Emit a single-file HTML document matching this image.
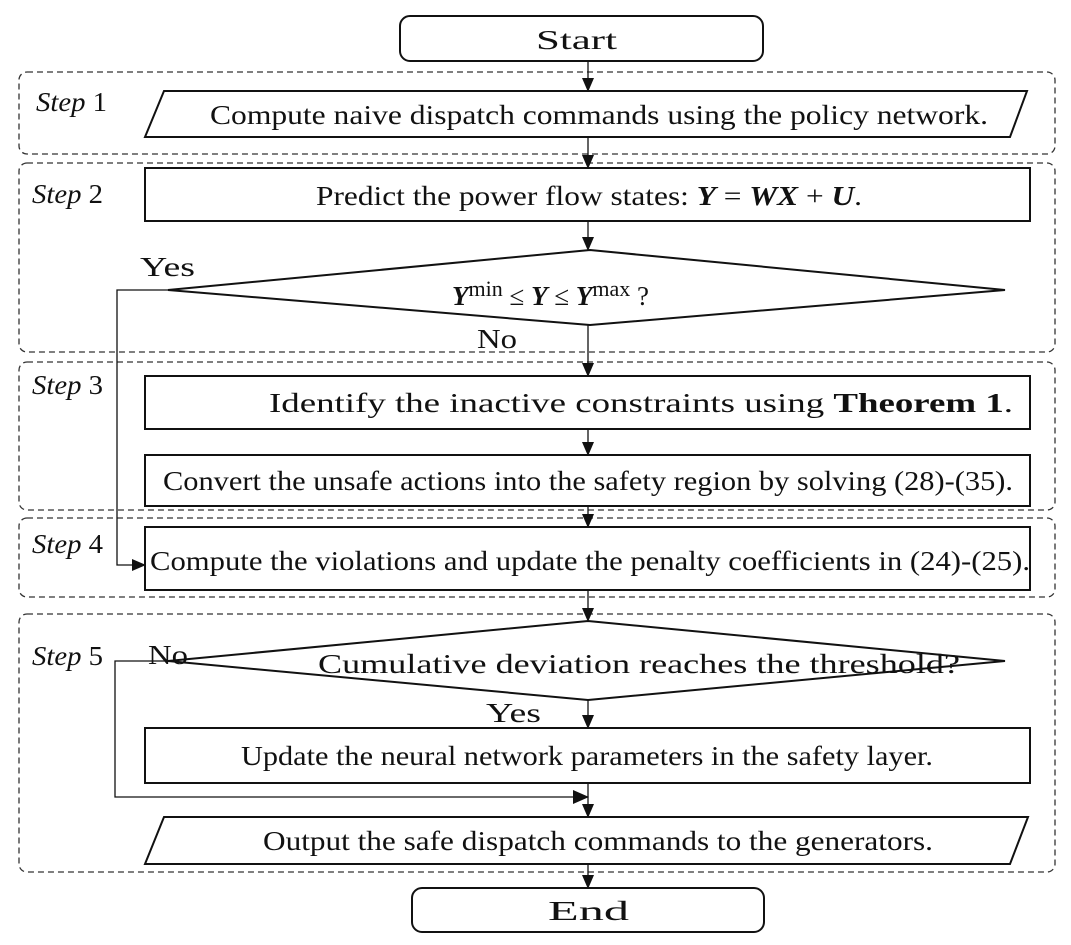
<!DOCTYPE html>
<html><head><style>body{margin:0;background:#fff}svg{display:block}text{font-family:"Liberation Serif",serif;font-size:27px;fill:#111}</style></head>
<body>
<svg width="1071" height="945" viewBox="0 0 1071 945" xmlns="http://www.w3.org/2000/svg">
<defs><marker id="a" markerWidth="14" markerHeight="14" refX="13" refY="7" orient="auto" markerUnits="userSpaceOnUse"><path d="M0,1 L14,7 L0,13 z" fill="#111"/></marker>
<marker id="b" markerWidth="16" markerHeight="16" refX="15" refY="8" orient="auto" markerUnits="userSpaceOnUse"><path d="M0,1 L16,8 L0,15 z" fill="#111"/></marker></defs>
<g fill="none" stroke="#333" stroke-width="1.3" stroke-dasharray="6,4">
<rect x="19" y="72" width="1036" height="82" rx="8"/>
<rect x="19" y="163" width="1036" height="189" rx="8"/>
<rect x="19" y="362" width="1036" height="148" rx="8"/>
<rect x="19" y="518" width="1036" height="79" rx="8"/>
<rect x="19" y="614" width="1036" height="258" rx="8"/>
</g>
<g fill="none" stroke="#111" stroke-width="2">
<rect x="400" y="16" width="363" height="45" rx="10"/>
<path d="M164,91 L1027,91 L1010,137 L145,137 z"/>
<rect x="145" y="168" width="885" height="53"/>
<path d="M590,250 L1005,290 L590,325 L168,290 z"/>
<rect x="145" y="376" width="885" height="53"/>
<rect x="145" y="455" width="885" height="51"/>
<rect x="145" y="527" width="885" height="63"/>
<path d="M588,621 L1005,661 L588,700 L168,661 z"/>
<rect x="145" y="728" width="885" height="55"/>
<path d="M164,817 L1028,817 L1010,864 L145,864 z"/>
<rect x="412" y="888" width="352" height="44" rx="10"/>
</g>
<g fill="none" stroke="#111" stroke-width="1.3">
<line x1="588" y1="61" x2="588" y2="91" marker-end="url(#a)"/>
<line x1="588" y1="137" x2="588" y2="168" marker-end="url(#a)"/>
<line x1="588" y1="221" x2="588" y2="250" marker-end="url(#a)"/>
<line x1="588" y1="325" x2="588" y2="376" marker-end="url(#a)"/>
<line x1="588" y1="429" x2="588" y2="455" marker-end="url(#a)"/>
<line x1="588" y1="506" x2="588" y2="527" marker-end="url(#a)"/>
<line x1="588" y1="590" x2="588" y2="621" marker-end="url(#a)"/>
<line x1="588" y1="700" x2="588" y2="728" marker-end="url(#a)"/>
<line x1="588" y1="783" x2="588" y2="817" marker-end="url(#a)"/>
<line x1="588" y1="864" x2="588" y2="888" marker-end="url(#a)"/>
<polyline points="168,290 117,290 117,565 145,565" marker-end="url(#a)"/>
<polyline points="168,661 115,661 115,797 588,797" marker-end="url(#b)"/>
</g>
<g lengthAdjust="spacingAndGlyphs">
<text x="536" y="49" textLength="81" lengthAdjust="spacingAndGlyphs">Start</text>
<text x="36" y="111" textLength="71" lengthAdjust="spacingAndGlyphs"><tspan font-style="italic">Step</tspan> 1</text>
<text x="210" y="124" textLength="778" lengthAdjust="spacingAndGlyphs">Compute naive dispatch commands using the policy network.</text>
<text x="32" y="203" textLength="71" lengthAdjust="spacingAndGlyphs"><tspan font-style="italic">Step</tspan> 2</text>
<text x="316" y="205" textLength="546" lengthAdjust="spacingAndGlyphs">Predict the power flow states: <tspan font-weight="bold" font-style="italic">Y</tspan> = <tspan font-weight="bold" font-style="italic">WX</tspan> + <tspan font-weight="bold" font-style="italic">U</tspan>.</text>
<text x="140" y="276" textLength="55" lengthAdjust="spacingAndGlyphs">Yes</text>
<text x="452" y="305"><tspan font-weight="bold" font-style="italic">Y</tspan><tspan dy="-9" font-size="22">min</tspan><tspan dy="9"> ≤ </tspan><tspan font-weight="bold" font-style="italic">Y</tspan> ≤ <tspan font-weight="bold" font-style="italic">Y</tspan><tspan dy="-9" font-size="22">max</tspan><tspan dy="9"> ?</tspan></text>
<text x="477" y="348" textLength="40" lengthAdjust="spacingAndGlyphs">No</text>
<text x="32" y="394" textLength="71" lengthAdjust="spacingAndGlyphs"><tspan font-style="italic">Step</tspan> 3</text>
<text x="269" y="412" textLength="744" lengthAdjust="spacingAndGlyphs">Identify the inactive constraints using <tspan font-weight="bold">Theorem 1</tspan>.</text>
<text x="163" y="490" textLength="850" lengthAdjust="spacingAndGlyphs">Convert the unsafe actions into the safety region by solving (28)-(35).</text>
<text x="32" y="553" textLength="71" lengthAdjust="spacingAndGlyphs"><tspan font-style="italic">Step</tspan> 4</text>
<text x="150" y="570" textLength="880" lengthAdjust="spacingAndGlyphs">Compute the violations and update the penalty coefficients in (24)-(25).</text>
<text x="32" y="665" textLength="71" lengthAdjust="spacingAndGlyphs"><tspan font-style="italic">Step</tspan> 5</text>
<text x="148" y="664" textLength="40" lengthAdjust="spacingAndGlyphs">No</text>
<text x="318" y="673" textLength="642" lengthAdjust="spacingAndGlyphs">Cumulative deviation reaches the threshold?</text>
<text x="486" y="722" textLength="55" lengthAdjust="spacingAndGlyphs">Yes</text>
<text x="241" y="765" textLength="692" lengthAdjust="spacingAndGlyphs">Update the neural network parameters in the safety layer.</text>
<text x="263" y="850" textLength="670" lengthAdjust="spacingAndGlyphs">Output the safe dispatch commands to the generators.</text>
<text x="548" y="920" textLength="81" lengthAdjust="spacingAndGlyphs">End</text>
</g>
</svg>
</body></html>
